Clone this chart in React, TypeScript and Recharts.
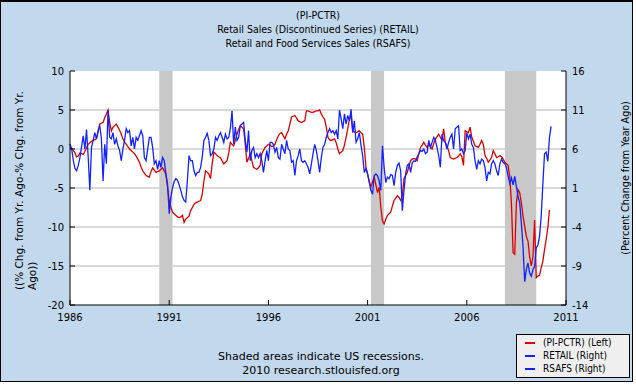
import { LineChart, Line, XAxis, YAxis, CartesianGrid, ReferenceArea } from "recharts"

// Year-over-year changes, monthly from Jan 1986 (one row per year)
const piPctr = [
  0.1, 0.1, -0.2, -0.5, -1.0, -0.9, -0.5, -0.6, -0.7, -0.3, 0.2, 0.6,
  0.8, 1.0, 1.1, 1.2, 1.3, 2.2, 3.2, 3.3, 3.4, 4.0, 4.5, 5.0,
  3.4, 2.3, 2.8, 3.0, 3.2, 2.8, 2.4, 1.9, 1.3, 0.9, 0.6, 0.3,
  0.0, -0.2, -0.4, -0.6, -0.9, -1.3, -1.7, -2.3, -2.8, -3.1, -3.4, -3.5,
  -3.6, -2.9, -2.4, -2.7, -3.0, -2.9, -2.8, -2.6, -2.4, -2.8, -3.2, -4.9,
  -6.6, -7.5, -8.1, -8.3, -8.5, -8.7, -8.8, -8.7, -8.5, -9.4, -9.0, -8.8,
  -8.6, -7.9, -7.5, -7.1, -6.9, -6.8, -6.7, -6.6, -5.8, -4.1, -2.8, -3.0,
  -3.2, -3.8, -1.9, -0.4, -0.6, -0.85, -1.0, -1.1, -1.5, -1.9, -1.7, -1.5,
  -0.5, 0.85, 0.6, 0.4, 1.1, 1.9, 2.5, 3.0, 2.8, 2.6, 0.6, -1.7,
  -1.2, -0.6, -1.5, -2.35, -2.5, -2.6, -2.4, -2.1, -0.6, -0.2, 0.2, 0.4,
  0.6, 0.5, 0.3, 0.4, 0.6, 1.2, 1.7, 2.0, 2.1, 1.7, 1.3, 1.9,
  2.35, 3.2, 4.1, 4.2, 4.3, 4.0, 3.6, 3.5, 3.4, 3.5, 3.6, 4.9,
  4.9, 4.8, 4.7, 4.7, 4.8, 4.9, 4.9, 5.0, 4.5, 4.1, 3.8, 2.8,
  1.5, 1.2, 1.1, 1.2, 1.3, 0.8, 0.0, -0.6, -0.4, -0.2, 0.5, 1.5,
  2.6, 3.85, 4.3, 2.35, 2.2, 2.1, 2.2, 2.35, 2.1, 1.9, 0.2, -2.35,
  -3.2, -4.1, -4.9, -4.2, -3.6, -4.6, -5.6, -4.9, -7.5, -9.2, -9.6, -9.0,
  -8.5, -8.3, -8.1, -7.3, -6.6, -6.3, -6.0, -6.2, -6.6, -6.0, -3.8, -3.4,
  -3.0, -2.2, -1.5, -1.3, -1.2, -1.3, -1.5, -0.6, 0.2, 0.5, 0.85, 0.5,
  0.2, 0.6, 0.3, 0.0, 0.7, 1.3, 1.6, 1.9, 1.5, 1.1, 2.6, 0.85,
  0.4, -0.2, -1.1, -1.2, -1.3, -1.2, -1.1, -0.9, -0.6, -1.0, -2.1, 2.35,
  2.2, 2.1, 2.8, 1.5, 1.0, 0.4, 0.3, 0.2, 0.6, 1.1, 0.6, -0.85,
  -1.2, -1.7, -1.4, -1.1, -0.2, -0.6, -1.1, -1.0, -0.85, -1.0, -1.3, -1.7,
  -1.9, -2.1, -3.6, -7.0, -13.3, -13.5, -6.9, -5.2, -5.6, -6.9, -8.6, -9.9,
  -11.2, -11.8, -13.8, -15.0, -13.8, -9.1, -16.5, -16.3, -16.2, -15.2, -14.4, -12.9,
  -11.6, -10.1, -7.8,
]

// Jan 1986 - Jan 1993
const retail = [
  6.65, 6.0, 4.5, 3.5, 3.2, 3.9, 4.9, 6.3, 7.7, 6.0, 8.5, 5.0,
  0.7, 6.2, 7.1, 8.1, 7.3, 8.35, 9.0, 7.3, 1.9, 6.6, 4.1, 11.0,
  7.5, 7.3, 8.1, 6.6, 7.3, 6.4, 5.8, 4.5, 6.0, 7.1, 8.6, 8.1,
  8.35, 6.4, 7.5, 6.0, 7.5, 7.1, 7.7, 8.35, 7.7, 4.9, 4.5, 6.0,
  7.5, 7.5, 6.2, 4.1, 4.5, 3.4, 4.5, 3.65, 4.9, 4.5, 2.8, 1.5,
  -2.3, -0.2, 1.0, 1.8, 2.2, 2.0, 1.4, 0.7, -0.1, -0.6, -0.8, 2.0,
  5.15, 4.5, 4.5, 3.2, 2.6, 3.0, 3.0, 3.65, 5.0, 7.1, 7.5, 8.0,
  7.1,
]

// Jan 1993 - Apr 2010
const rsafsStart = 84
const rsafs = [
  7.1, 5.15, 5.4, 6.0, 7.5, 7.1, 7.7, 8.1, 7.5, 6.85, 7.9, 7.3,
  7.5, 8.6, 10.9, 6.6, 8.8, 7.1, 7.5, 9.0, 9.2, 9.4, 7.1, 5.6,
  8.35, 4.5, 5.8, 6.2, 4.9, 5.4, 4.9, 5.4, 4.5, 3.0, 4.5, 5.8,
  4.5, 6.85, 6.85, 6.6, 5.6, 6.2, 4.9, 4.7, 6.6, 6.0, 5.4, 7.1,
  6.0, 5.8, 4.3, 4.5, 2.6, 4.5, 5.15, 6.0, 4.5, 4.3, 4.5, 4.1,
  3.65, 2.8, 4.1, 5.4, 6.6, 5.8, 4.5, 3.0, 4.9, 6.2, 6.6, 7.5,
  8.1, 8.6, 8.1, 8.35, 7.9, 8.35, 7.3, 11.0, 9.85, 8.6, 10.5, 9.2,
  10.3, 9.6, 11.1, 8.1, 9.6, 6.85, 7.3, 8.1, 6.5, 5.15, 3.0, 3.5,
  2.8, 1.7, 0.7, 0.2, 2.6, 2.8, 2.6, 1.9, 0.7, 6.4, 3.65, 1.7,
  2.4, 2.2, 2.7, 2.6, 1.3, 3.0, 3.9, 4.2, 3.2, -1.9, 0.7, 2.8,
  3.9, 4.1, 3.0, 4.2, 4.5, 4.4, 5.0, 5.4, 5.8, 5.7, 6.0, 5.4,
  5.6, 7.1, 6.2, 6.85, 7.5, 7.1, 6.2, 5.15, 3.65, 7.9, 7.1, 6.85,
  6.0, 6.85, 7.5, 7.9, 6.0, 8.6, 8.8, 9.0, 5.8, 6.0, 5.4, 5.8,
  8.1, 7.3, 7.9, 6.6, 6.2, 4.5, 3.4, 4.5, 4.1, 4.7, 4.5, 3.65,
  1.9, 3.0, 2.8, 4.1, 4.5, 4.1, 3.2, 2.6, 4.1, 4.7, 4.3, 4.1,
  3.65, 2.5, 1.6, 2.3, 1.4, 2.5, 1.2, -0.1, -0.9, -3.5, -6.5, -11.0,
  -9.5, -8.6, -9.9, -10.3, -9.5, -9.0, -6.7, -6.3, -5.2, -2.6, 1.5, 5.4,
  5.6, 4.4, 7.5, 8.9,
]

const recessions = [
  [1990.5, 1991.17],
  [2001.17, 2001.83],
  [2007.92, 2009.5],
]

const xTicks = [1986, 1991, 1996, 2001, 2006, 2011]
const leftTicks = [-20, -15, -10, -5, 0, 5, 10]
const rightTicks = [-14, -9, -4, 1, 6, 11, 16]

const monthCount = rsafsStart + rsafs.length
const data = Array.from({ length: monthCount }, (_, i) => ({
  t: 1986 + i / 12,
  pi: piPctr[i],
  retail: retail[i],
  rsafs: i >= rsafsStart ? rsafs[i - rsafsStart] : undefined,
}))

const FONT = "'DejaVu Sans', Verdana, sans-serif"
const NARROW = "'DejaVu Sans Condensed', 'DejaVu Sans', sans-serif"

const legendItems = [
  { label: "(PI-PCTR) (Left)", color: "#dd0000" },
  { label: "RETAIL (Right)", color: "#1122ff" },
  { label: "RSAFS (Right)", color: "#1122ff" },
]

export default function App() {
  const tickStyle = { fontSize: 10, fill: "#000", fontFamily: FONT }
  return (
    <div style={{ position: "absolute", left: 0, top: 0, width: 636, height: 387, background: "#fff" }}>
      <div
        style={{
          position: "absolute",
          left: 0,
          top: 0,
          width: 633,
          height: 382,
          boxSizing: "border-box",
          border: "1px solid #000",
          borderTopWidth: 2,
          background: "#c2d8ec",
        }}
      />
      <div style={{ position: "absolute", left: 0, top: 0 }}>
        <LineChart width={636} height={387} data={data} margin={{ top: 71, right: 0, bottom: 0, left: 0 }}>
          <CartesianGrid
            yAxisId="left"
            vertical={false}
            horizontalValues={[5, 0, -5, -10, -15]}
            stroke="#b4b4b4"
            fill="#fff"
            fillOpacity={1}
          />
          {recessions.map(([a, b]) => (
            <ReferenceArea key={a} yAxisId="left" x1={a} x2={b} fill="#c8c8c8" fillOpacity={1} stroke="none" />
          ))}
          <XAxis
            dataKey="t"
            type="number"
            domain={[1986, 2011]}
            ticks={xTicks}
            interval={0}
            height={82}
            tick={tickStyle}
            tickSize={-5}
            tickMargin={14}
            axisLine={{ stroke: "#000" }}
            tickLine={{ stroke: "#000" }}
          />
          <YAxis
            yAxisId="left"
            orientation="left"
            width={70}
            domain={[-20, 10]}
            ticks={leftTicks}
            interval={0}
            tick={tickStyle}
            tickSize={-5}
            tickMargin={11}
            axisLine={{ stroke: "#000" }}
            tickLine={{ stroke: "#000" }}
          />
          <YAxis
            yAxisId="right"
            orientation="right"
            width={70}
            domain={[-14, 16]}
            ticks={rightTicks}
            interval={0}
            tick={tickStyle}
            tickSize={-5}
            tickMargin={11}
            axisLine={{ stroke: "#000" }}
            tickLine={{ stroke: "#000" }}
          />
          <Line yAxisId="left" type="linear" dataKey="pi" stroke="#dd0000" strokeWidth={1.3} dot={false} isAnimationActive={false} />
          <Line yAxisId="right" type="linear" dataKey="retail" stroke="#1122ff" strokeWidth={1.3} dot={false} isAnimationActive={false} />
          <Line yAxisId="right" type="linear" dataKey="rsafs" stroke="#1122ff" strokeWidth={1.3} dot={false} isAnimationActive={false} />
        </LineChart>
      </div>
      <svg width={636} height={387} style={{ position: "absolute", left: 0, top: 0, pointerEvents: "none" }}>
        <g fontFamily={NARROW} fontSize={10.5} fill="#000" textAnchor="middle">
          <text x={318} y={19}>(PI-PCTR)</text>
          <text x={318} y={33}>Retail Sales (Discontinued Series) (RETAIL)</text>
          <text x={318} y={47}>Retail and Food Services Sales (RSAFS)</text>
        </g>
        <g fontFamily={FONT} fontSize={10.5} fill="#000">
          <text transform="translate(23,290) rotate(-90)">((% Chg. from Yr. Ago-% Chg. from Yr.</text>
          <text transform="translate(36,290) rotate(-90)">Ago))</text>
          <text transform="translate(629,178) rotate(-90)" textAnchor="middle" fontSize={9.6}>
            (Percent Change from Year Ago)
          </text>
          <text x={321} y={360} textAnchor="middle" fontSize={11}>Shaded areas indicate US recessions.</text>
          <text x={321} y={374} textAnchor="middle" fontSize={11}>2010 research.stlouisfed.org</text>
        </g>
      </svg>
      <div
        style={{
          position: "absolute",
          left: 516,
          top: 334,
          width: 114,
          height: 44,
          boxSizing: "border-box",
          border: "1px solid #000",
          background: "#efefef",
          fontFamily: NARROW,
          fontSize: 10,
        }}
      >
        {legendItems.map((item, i) => (
          <div key={item.label} style={{ position: "absolute", left: 8, top: 1 + i * 13, height: 13, display: "flex", alignItems: "center" }}>
            <span style={{ display: "inline-block", width: 10, height: 2, background: item.color, marginRight: 8 }} />
            <span>{item.label}</span>
          </div>
        ))}
      </div>
    </div>
  )
}
